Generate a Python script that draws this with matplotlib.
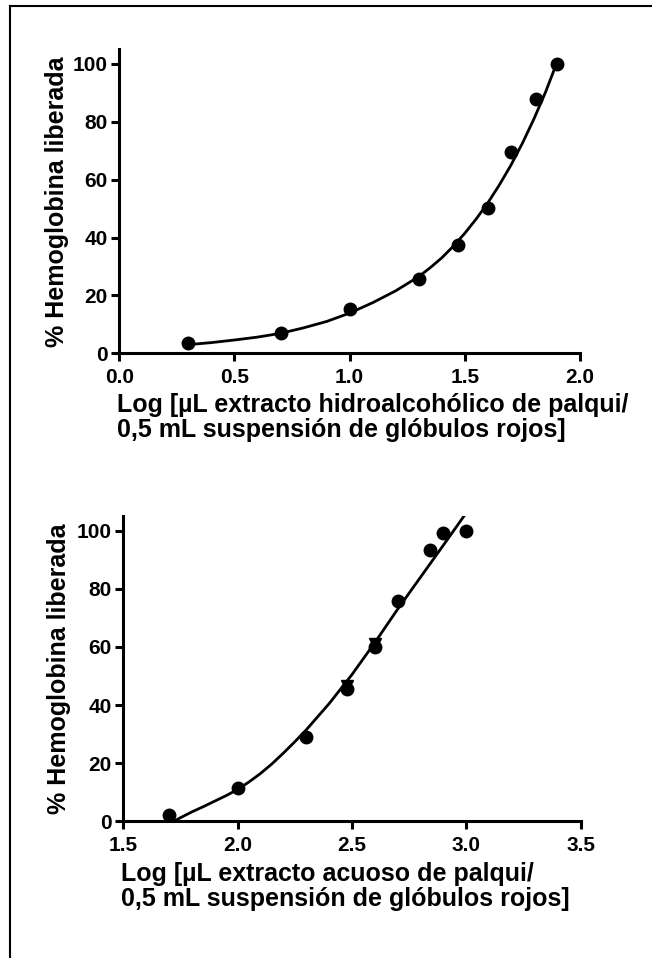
import numpy as np
import matplotlib
matplotlib.use('Agg')
import matplotlib.pyplot as plt
from matplotlib.lines import Line2D

# --- data ---
# upper panel: hydroalcoholic extract
top_x = [0.30, 0.70, 1.00, 1.30, 1.47, 1.60, 1.70, 1.81, 1.90]
top_y = [3.4, 7.0, 15.3, 25.8, 37.3, 50.2, 69.6, 88.0, 100.0]
top_fit_x = [0.30, 0.40, 0.50, 0.60, 0.70, 0.80, 0.90, 1.00, 1.10, 1.20, 1.30,
             1.35, 1.40, 1.45, 1.50, 1.55, 1.60, 1.65, 1.70, 1.75, 1.80, 1.85, 1.90]
top_fit_y = [3.0, 3.7, 4.6, 5.6, 6.9, 8.8, 11.0, 13.9, 17.5, 21.6, 26.5,
             29.6, 33.0, 37.0, 41.5, 46.5, 52.0, 58.2, 65.0, 72.6, 81.0, 90.2, 100.5]

# lower panel: aqueous extract
bot_x = [1.70, 2.00, 2.30, 2.48, 2.60, 2.70, 2.84, 2.90, 3.00]
bot_y = [2.3, 11.4, 28.9, 45.5, 60.1, 75.9, 93.4, 99.0, 99.9]
bot_tri_x = [2.48, 2.60]
bot_tri_y = [46.5, 61.0]
bot_fit_x = [1.72, 1.75, 1.80, 1.85, 1.90, 1.95, 2.00, 2.05, 2.10, 2.15, 2.20, 2.25,
             2.30, 2.35, 2.40, 2.50, 2.60, 2.70, 2.80, 2.90, 2.99]
bot_fit_y = [0.0, 1.3, 3.3, 5.1, 7.0, 8.9, 11.0, 13.6, 16.5, 19.8, 23.5, 27.4,
             31.5, 36.0, 40.5, 50.5, 61.5, 73.0, 84.0, 95.0, 105.0]

top_xticks = [0.0, 0.5, 1.0, 1.5, 2.0]
bot_xticks = [1.5, 2.0, 2.5, 3.0, 3.5]
yticks = [0, 20, 40, 60, 80, 100]

ylabel = '% Hemoglobina liberada'
top_xlabel = 'Log [\u00b5L extracto hidroalcoh\u00f3lico de palqui/\n0,5 mL suspensi\u00f3n de gl\u00f3bulos rojos]'
bot_xlabel = 'Log [\u00b5L extracto acuoso de palqui/\n0,5 mL suspensi\u00f3n de gl\u00f3bulos rojos]'

plt.rcParams['font.family'] = 'Liberation Sans'
plt.rcParams['font.weight'] = 'bold'

fig = plt.figure(figsize=(6.52, 9.58), dpi=100)

# partial frame around the figure (left and top edges)
fig.add_artist(Line2D([10/652, 10/652], [0, 1 - 6/958], color='black', lw=1.5))
fig.add_artist(Line2D([10/652, 1], [1 - 6/958, 1 - 6/958], color='black', lw=1.5))


def style_axes(ax, xticks, xlim):
    ax.set_xlim(xlim)
    ax.set_ylim(0, 105)
    ax.set_xticks(xticks)
    ax.set_xticklabels(['%.1f' % t for t in xticks])
    ax.set_yticks(yticks)
    for s in ['top', 'right']:
        ax.spines[s].set_visible(False)
    for s in ['left', 'bottom']:
        ax.spines[s].set_linewidth(2.2)
        ax.spines[s].set_capstyle('projecting')
    ax.tick_params(width=2.2, length=5.5, direction='out', labelsize=15)
    ax.tick_params(axis='x', pad=5)
    ax.tick_params(axis='y', pad=3)
    for lab in ax.get_xticklabels() + ax.get_yticklabels():
        lab.set_fontweight('bold')


ax1 = fig.add_axes([0.183, 0.6312, 0.7066, 0.3172])
ax1.plot(top_fit_x, top_fit_y, color='black', lw=2.0, clip_on=False)
ax1.plot(top_x, top_y, 'o', color='black', ms=9, clip_on=False)
style_axes(ax1, top_xticks, (0, 2))
ax1.set_ylabel(ylabel, fontsize=18, fontweight='bold')
ax1.yaxis.set_label_coords(-0.11, 0.5)
ax1.set_xlabel(top_xlabel, fontsize=18, fontweight='bold', ha='left',
               multialignment='left', linespacing=1.05)
ax1.xaxis.set_label_coords(-0.006, -0.132)

ax2 = fig.add_axes([0.1891, 0.1425, 0.7015, 0.3189])
ax2.plot(bot_fit_x, bot_fit_y, color='black', lw=2.0)
ax2.plot(bot_tri_x, bot_tri_y, 'v', color='black', ms=9, clip_on=False)
ax2.plot(bot_x, bot_y, 'o', color='black', ms=9, clip_on=False)
style_axes(ax2, bot_xticks, (1.5, 3.5))
ax2.set_ylabel(ylabel, fontsize=18, fontweight='bold')
ax2.yaxis.set_label_coords(-0.115, 0.5)
ax2.set_xlabel(bot_xlabel, fontsize=18, fontweight='bold', ha='left',
               multialignment='left', linespacing=1.05)
ax2.xaxis.set_label_coords(-0.004, -0.132)

fig.savefig('out.png', dpi=100)
